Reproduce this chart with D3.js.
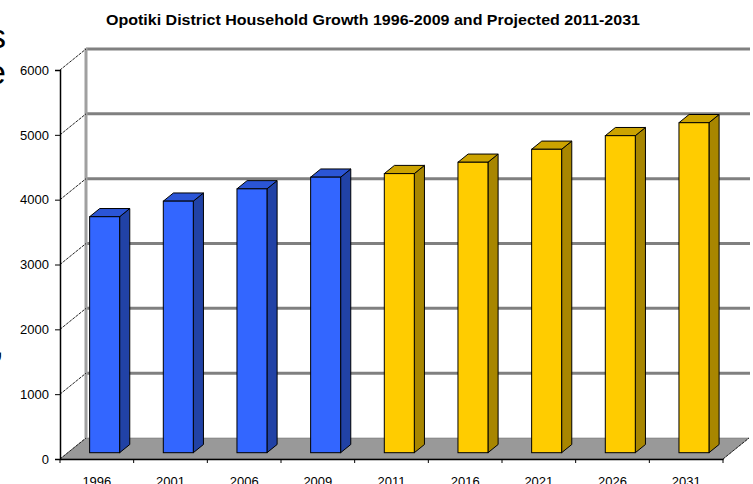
<!DOCTYPE html>
<html><head><meta charset="utf-8">
<script src="https://cdn.jsdelivr.net/npm/d3@7"></script>
<style>html,body{margin:0;padding:0;background:#fff;overflow:hidden}</style>
</head><body>
<svg id="c" width="753" height="484"></svg>
<script>
const categories = ["1996","2001","2006","2009","2011","2016","2021","2026","2031"];
const households = [3640, 3880, 4070, 4250, 4305, 4480, 4680, 4890, 5090];
const projected = [false, false, false, false, true, true, true, true, true];
const yTicks = [0,1000,2000,3000,4000,5000,6000];
const title = "Opotiki District Household Growth 1996-2009 and Projected 2011-2031";

const svg = d3.select("#c");
const DX = 26, DY = -21;           // depth offset of back wall
const x = d3.scaleBand().domain(categories).range([60, 723]);
const y = d3.scaleLinear().domain([0, 6000]).range([459, 70]);
const font = "'Liberation Sans', Arial, sans-serif";

// stray text from neighbouring page
svg.append("text").attr("x", 6).attr("y", 48).attr("text-anchor","end")
  .attr("font-family", font).attr("font-size", 34).text("s");
svg.append("text").attr("x", 6).attr("y", 84).attr("text-anchor","end")
  .attr("font-family", font).attr("font-size", 34).text("e");
svg.append("text").attr("x", 4).attr("y", 356).attr("text-anchor","end")
  .attr("font-family", font).attr("font-size", 34).text(",");

// title
svg.append("text").attr("x", 373).attr("y", 25).attr("text-anchor","middle")
  .attr("font-family", font).attr("font-weight","bold").attr("font-size", 14.5)
  .attr("textLength", 534).attr("lengthAdjust","spacingAndGlyphs").text(title);

const x0 = x.range()[0], x1 = x.range()[1];
// floor
svg.append("path")
  .attr("d", `M${x0},${y(0)}L${x1},${y(0)}L${x1+DX},${y(0)+DY}L${x0+DX},${y(0)+DY}Z`)
  .attr("fill", "#999999").attr("stroke", "#666").attr("stroke-width", 0.5);

// back wall gridlines
svg.append("g").selectAll("line").data(yTicks.filter(d => d > 0)).join("line")
  .attr("x1", x0+DX).attr("x2", x1+DX+1)
  .attr("y1", d => y(d)+DY).attr("y2", d => y(d)+DY)
  .attr("stroke", "#808080").attr("stroke-width", 3);
// back wall left edge
svg.append("line").attr("x1", x0+DX).attr("x2", x0+DX)
  .attr("y1", y(6000)+DY-1).attr("y2", y(0)+DY)
  .attr("stroke", "#a0a0a0").attr("stroke-width", 3);

// left wall gridlines
svg.append("g").selectAll("line").data(yTicks).join("line")
  .attr("x1", x0).attr("x2", x0+DX)
  .attr("y1", d => y(d)).attr("y2", d => y(d)+DY)
  .attr("stroke", "#222").attr("stroke-width", 1).attr("stroke-dasharray", "3,1");
// floor right edge
svg.append("line").attr("x1", x1).attr("x2", x1+DX)
  .attr("y1", y(0)).attr("y2", y(0)+DY)
  .attr("stroke", "#222").attr("stroke-width", 1).attr("stroke-dasharray", "3,1");

// y axis
const yAxis = svg.append("g").attr("transform", `translate(${x0},0)`)
  .call(d3.axisLeft(y).tickValues(yTicks).tickSize(5).tickPadding(6).tickFormat(d3.format("d")));
yAxis.select(".domain").attr("stroke", "#000").attr("stroke-width", 1.5);
yAxis.selectAll("text").attr("font-family", font).attr("font-size", 13).attr("fill","#000");

// x axis
const xAxis = svg.append("g").attr("transform", `translate(0,${y(0)})`)
  .call(d3.axisBottom(x).tickSize(0).tickPadding(18));
xAxis.select(".domain").attr("stroke", "#000").attr("stroke-width", 1.5);
xAxis.selectAll("text").attr("font-family", font).attr("font-size", 13).attr("fill","#000");
svg.append("g").selectAll("line").data(categories.concat(["end"])).join("line")
  .attr("x1", (d,i) => x0 + i*x.step()).attr("x2", (d,i) => x0 + i*x.step())
  .attr("y1", y(0)).attr("y2", y(0)+4).attr("stroke", "#000");

// bars
const BW = 30, D0 = 0.3, D1 = 0.69;
const colors = {
  false: {front:"#3366FF", side:"#2142A6", top:"#2B55D6"},
  true:  {front:"#FFCC00", side:"#A88600", top:"#CCA300"}
};
const bars = svg.append("g").selectAll("g").data(categories.map((c,i) => ({c, v: households[i], p: projected[i]})))
  .join("g");
bars.each(function(d) {
  const g = d3.select(this);
  const cx = x(d.c) + x.bandwidth()/2;
  const fl = cx - BW/2 + D0*DX, fr = fl + BW;
  const fb = y(0) + D0*DY, ft = y(d.v) + D0*DY;
  const ox = (D1-D0)*DX, oy = (D1-D0)*DY;
  const col = colors[d.p];
  g.append("path").attr("d", `M${fr},${ft}L${fr+ox},${ft+oy}L${fr+ox},${fb+oy}L${fr},${fb}Z`)
    .attr("fill", col.side).attr("stroke","#000").attr("stroke-width",1).attr("stroke-linejoin","round");
  g.append("path").attr("d", `M${fl},${ft}L${fl+ox},${ft+oy}L${fr+ox},${ft+oy}L${fr},${ft}Z`)
    .attr("fill", col.top).attr("stroke","#000").attr("stroke-width",1).attr("stroke-linejoin","round");
  g.append("rect").attr("x", fl).attr("y", ft).attr("width", BW).attr("height", fb-ft)
    .attr("fill", col.front).attr("stroke","#000").attr("stroke-width",1);
});
</script>
</body></html>
